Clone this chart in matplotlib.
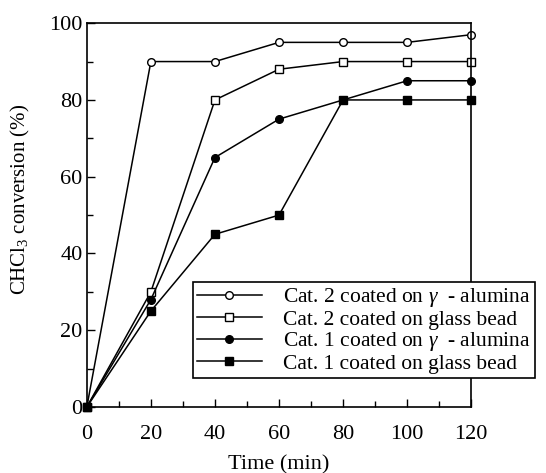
import matplotlib
matplotlib.use("Agg")
import matplotlib.pyplot as plt
from matplotlib.ticker import MultipleLocator

plt.rcParams['font.family'] = ['Liberation Serif', 'DejaVu Serif']
plt.rcParams['mathtext.fontset'] = 'custom'
plt.rcParams['mathtext.rm'] = 'Liberation Serif'
plt.rcParams['mathtext.it'] = 'Liberation Serif:italic'

time = [0, 20, 40, 60, 80, 100, 120]
cat2_alumina = [0, 90, 90, 95, 95, 95, 97]
cat2_glass = [0, 30, 80, 88, 90, 90, 90]
cat1_alumina = [0, 28, 65, 75, 80, 85, 85]
cat1_glass = [0, 25, 45, 50, 80, 80, 80]
labels = ["Cat. 2 coated on $\\gamma$  - alumina", "Cat. 2 coated on glass bead",
          "Cat. 1 coated on $\\gamma$  - alumina", "Cat. 1 coated on glass bead"]

fig = plt.figure(figsize=(5.46, 4.73), dpi=100)
ax = fig.add_axes([0.159, 0.1395, 0.704, 0.8115])

kw = dict(color='black', lw=1.1, markersize=5.5, markeredgewidth=1.0, clip_on=False)
ax.plot(time, cat2_alumina, marker='o', markerfacecolor='white', label=labels[0], **kw)
ax.plot(time, cat2_glass, marker='s', markerfacecolor='white', label=labels[1], **kw)
ax.plot(time, cat1_alumina, marker='o', markerfacecolor='black', label=labels[2], **kw)
ax.plot(time, cat1_glass, marker='s', markerfacecolor='black', label=labels[3], **kw)

ax.set_xlim(0, 120)
ax.set_ylim(0, 100)
ax.xaxis.set_major_locator(MultipleLocator(20))
ax.xaxis.set_minor_locator(MultipleLocator(10))
ax.yaxis.set_major_locator(MultipleLocator(20))
ax.yaxis.set_minor_locator(MultipleLocator(10))
ax.tick_params(which='both', direction='in', labelsize=16, width=1.0)
ax.tick_params(which='major', length=6)
ax.tick_params(which='minor', length=4)
ax.tick_params(axis='x', pad=13)
ax.tick_params(axis='y', pad=3)
for s in ax.spines.values():
    s.set_linewidth(1.2)

ax.set_xlabel("Time (min)", fontsize=16, labelpad=8)
ax.set_ylabel("CHCl$_3$ conversion (%)", fontsize=15)
ax.yaxis.set_label_coords(-0.142, 0.54)

leg = ax.legend(loc='upper left', bbox_to_anchor=(0.353, 0.404), bbox_transform=fig.transFigure,
                fontsize=15.5, frameon=True, fancybox=False, edgecolor='black', framealpha=1,
                handlelength=3.0, numpoints=1, borderpad=0.2, labelspacing=0.02,
                handletextpad=1.0, borderaxespad=0)
leg.get_frame().set_linewidth(1.2)

fig.savefig("out.png", dpi=100)
